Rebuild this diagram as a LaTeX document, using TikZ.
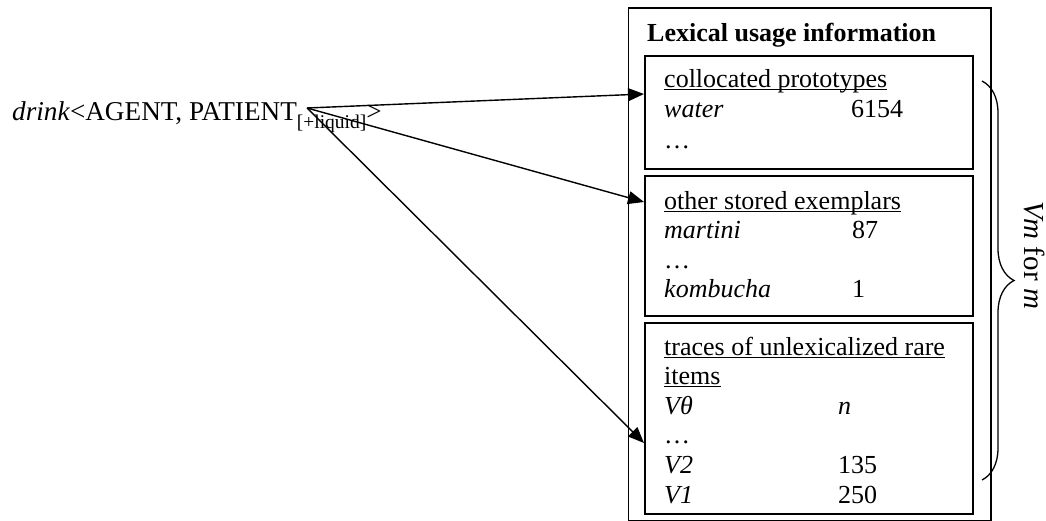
\documentclass[tikz,border=0pt]{standalone}
\usepackage{fontspec}
\setmainfont{Liberation Serif}
\usetikzlibrary{arrows.meta,decorations.pathreplacing}
\newcommand\ulx[1]{\setbox0\hbox{#1}\rlap{\rule[-3pt]{\wd0}{1.5pt}}\box0}
\tikzset{
  txt/.style={anchor=base west,inner sep=0pt,font=\fontsize{26}{30}\selectfont},
  frame/.style={draw,line width=1.7pt,anchor=north west,inner sep=0pt},
  arr/.style={line width=1.4pt,-{Triangle[length=16pt,width=13pt]}},
}
\begin{document}
\begin{tikzpicture}[x=1pt,y=-1pt]
\useasboundingbox (0,0) rectangle (1046,520);
% outer box
\node[frame,minimum width=362.5pt,minimum height=513pt] (outer) at (627.5,7) {};
\node[txt,font=\fontsize{26}{30}\selectfont\bfseries] (title) at (647,41) {Lexical usage information};
% inner boxes
\node[frame,minimum width=328pt,minimum height=113pt] (b1) at (644,55) {};
\node[frame,minimum width=328pt,minimum height=140pt] (b2) at (644,175) {};
\node[frame,minimum width=328pt,minimum height=191pt] (b3) at (644,322) {};
% box 1
\node[txt] (h1) at (664,87) {\ulx{collocated prototypes}};
\node[txt] (w1) at (664,117) {\textit{water}};
\node[txt] (n1) at (851,117) {6154};
\node[txt] (e1) at (664,148) {…};
% box 2
\node[txt] (h2) at (664,209) {\ulx{other stored exemplars}};
\node[txt] (w2) at (664,238) {\textit{martini}};
\node[txt] (n2) at (852,238) {87};
\node[txt] (e2) at (664,268) {…};
\node[txt] (w3) at (664,297) {\textit{kombucha}};
\node[txt] (n3) at (852,297) {1};
% box 3
\node[txt] (h3a) at (664,355) {\ulx{traces of unlexicalized rare}};
\node[txt] (h3b) at (664,384) {\ulx{items}};
\node[txt] (w4) at (664,414) {\textit{Vθ}};
\node[txt] (n4) at (838,414) {\textit{n}};
\node[txt] (e3) at (664,443) {…};
\node[txt] (w5) at (664,473) {\textit{V2}};
\node[txt] (n5) at (838,473) {135};
\node[txt] (w6) at (664,503) {\textit{V1}};
\node[txt] (n6) at (838,503) {250};
% left text
\node[txt,font=\fontsize{27.2}{30}\selectfont] (drink) at (12,120) {\textit{drink}<AGENT, PATIENT\raisebox{-8pt}{\fontsize{19.5}{20}\selectfont [+liquid]}>};
\coordinate (src) at (307,108);
\coordinate (t1) at (644,94);
\coordinate (t2) at (644,202);
\coordinate (t3) at (644,443);
\draw[arr] (src) -- (t1);
\draw[arr] (src) -- (t2);
\draw[arr] (src) -- (t3);
% brace
\coordinate (bt) at (982,81);
\coordinate (bb) at (982,480);
\draw[line width=1.3pt,decorate,decoration={brace,amplitude=32pt,aspect=0.5}] (bt) -- (bb);
\node[rotate=-90,inner sep=0pt,font=\fontsize{29}{32}\selectfont] (lbl) at (1034,255) {\textit{Vm} for \textit{m}};
\end{tikzpicture}
\end{document}
